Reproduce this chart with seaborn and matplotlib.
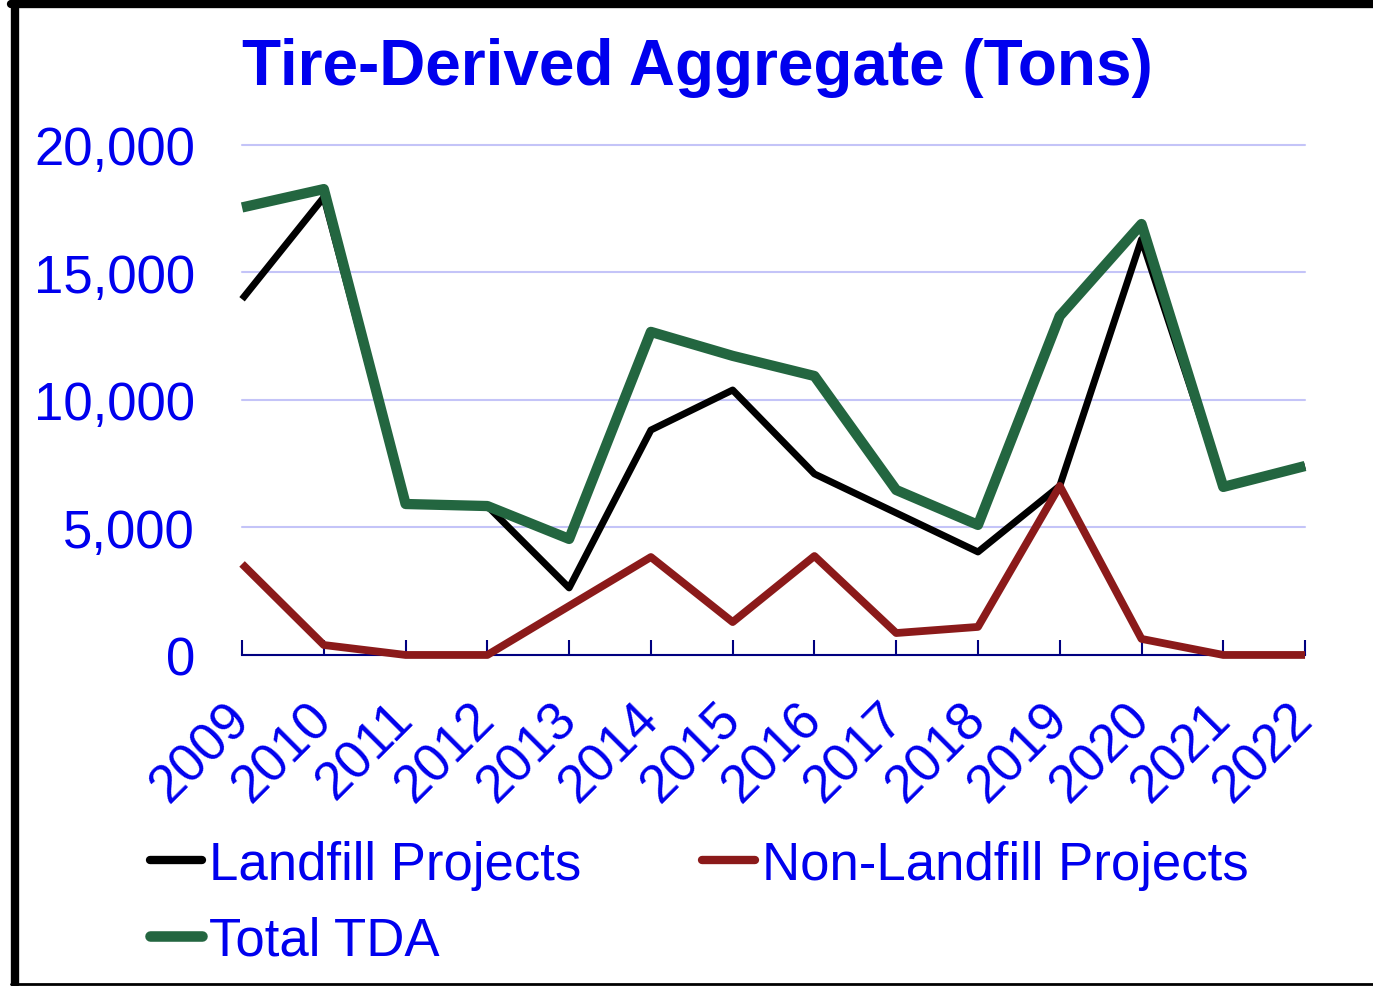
import seaborn as sns
import matplotlib.pyplot as plt
import pandas as pd
from matplotlib.lines import Line2D

years = [2009, 2010, 2011, 2012, 2013, 2014, 2015, 2016, 2017, 2018, 2019, 2020, 2021, 2022]
landfill = [13950, 17950, 5920, 5840, 2630, 8820, 10390, 7100, 5570, 4040, 6630, 16300, 6590, 7410]
non_landfill = [3570, 390, 0, 0, 1920, 3840, 1290, 3880, 860, 1100, 6630, 630, 0, 0]
total = [17550, 18270, 5920, 5840, 4550, 12670, 11730, 10940, 6470, 5100, 13290, 16900, 6590, 7410]

series_names = ["Landfill Projects", "Non-Landfill Projects", "Total TDA"]
series_colors = ["#000000", "#8B1A1A", "#236640"]
series_widths = [5.0, 5.6, 7.4]
legend_widths = [6.0, 6.0, 7.6]

data = pd.DataFrame({
    "year": years * 3,
    "tons": landfill + non_landfill + total,
    "series": [series_names[0]] * 14 + [series_names[1]] * 14 + [series_names[2]] * 14,
})

sns.set_style("white")
plt.rcParams["font.family"] = ["Liberation Sans", "DejaVu Sans"]

fig = plt.figure(figsize=(13.73, 9.87), dpi=100)
ax = fig.add_axes([0.1763, 0.3354, 0.7742, 0.5167])

for i, name in enumerate(series_names):
    sns.lineplot(data=data[data["series"] == name], x="year", y="tons",
                 color=series_colors[i], ax=ax, legend=False)
    ln = ax.lines[-1]
    ln.set_linewidth(series_widths[i])
    ln.set_solid_joinstyle("round")
    ln.set_solid_capstyle("butt")
    ln.set_zorder(3 + i)
    ln.set_clip_on(False)

ax.set_xlim(2009, 2022)
ax.set_ylim(0, 20000)
ax.set_yticks([0, 5000, 10000, 15000, 20000])
ax.set_yticklabels(["0", "5,000", "10,000", "15,000", "20,000"])
ax.set_xticks(years)
ax.set_xticklabels([str(y) for y in years], rotation=45, ha="right", va="center",
                   rotation_mode="anchor")
ax.tick_params(axis="y", length=0, pad=34, labelsize=38, labelcolor="#0000EE")
ax.tick_params(axis="x", bottom=True, direction="in", length=11, width=1.5,
               color="#000080", pad=40, labelsize=38, labelcolor="#0000EE")
ax.grid(axis="y", color="#C4C4F8", linewidth=1.5)
for gl in ax.get_ygridlines():
    gl.set_clip_on(False)
ax.set_axisbelow(True)
for s in ["top", "right", "left"]:
    ax.spines[s].set_visible(False)
ax.spines["bottom"].set_color("#000080")
ax.spines["bottom"].set_linewidth(1.5)
ax.set_xlabel("")
ax.set_ylabel("")

fig.text(0.508, 0.931, "Tire-Derived Aggregate (Tons)", ha="center", va="center",
         fontsize=46, fontweight="bold", color="#0000EE")

handles = [Line2D([], [], color=series_colors[i], linewidth=legend_widths[i],
                  solid_capstyle="round") for i in range(3)]
order = [0, 2, 1]
fig.legend([handles[i] for i in order], [series_names[i] for i in order],
           loc="upper left", bbox_to_anchor=(0.109, 0.148), ncol=2, frameon=False,
           fontsize=38, labelcolor="#0000EE", handlelength=1.0, handletextpad=0.12,
           columnspacing=2.3, labelspacing=0.48, borderpad=0, borderaxespad=0)

# outer frame
fig.add_artist(Line2D([15 / 1373, 15 / 1373], [0.002, 0.995], transform=fig.transFigure,
                      color="black", linewidth=6))
fig.add_artist(Line2D([0.008, 1.0], [1 - 5 / 987, 1 - 5 / 987], transform=fig.transFigure,
                      color="black", linewidth=6))
fig.add_artist(Line2D([0.008, 1.0], [0.002, 0.002], transform=fig.transFigure,
                      color="black", linewidth=2))

fig.savefig("out.png", dpi=100)
